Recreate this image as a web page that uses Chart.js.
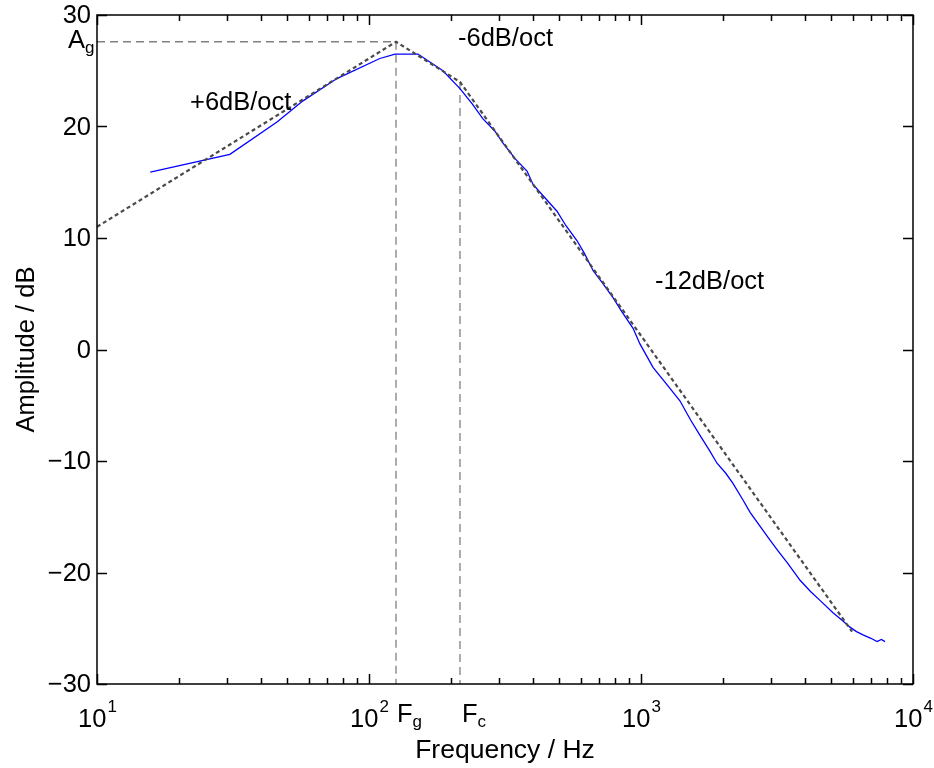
<!DOCTYPE html>
<html>
<head>
<meta charset="utf-8">
<script src="https://cdn.jsdelivr.net/npm/chart.js@4"></script>
<style>
  body { margin: 0; background: #fff; }
</style>
</head>
<body>
<canvas id="chartAmplitude" width="934" height="768"></canvas>
<script>
// measured response (Hz, dB)
const measuredFreq = [15.7, 30.8, 45.9, 57.2, 76.2, 109.6, 124.7, 151.4, 187, 216, 240, 262, 290, 311, 345, 381, 401, 440, 491, 530, 582, 620, 667, 720, 789, 850, 935, 991, 1050, 1107, 1250, 1390, 1520, 1648, 1780, 1903, 2050, 2178, 2371, 2518, 2750, 2981, 3200, 3442, 3845, 4200, 4550, 5080, 5500, 5865, 6200, 6550, 7000, 7380, 7650, 7890];
const measuredDb   = [15.9, 17.5, 20.4, 22.3, 24.3, 26.1, 26.5, 26.5, 25.0, 23.4, 22.0, 20.7, 19.6, 18.5, 17.1, 16.0, 14.8, 13.7, 12.4, 11.1, 9.75, 8.6, 7.07, 6.0, 4.65, 3.4, 1.9, 0.5, -0.6, -1.6, -3.2, -4.6, -6.3, -7.7, -9.0, -10.2, -11.1, -12.0, -13.5, -14.6, -15.9, -17.1, -18.1, -19.1, -20.7, -21.7, -22.5, -23.6, -24.3, -24.9, -25.3, -25.6, -25.9, -26.2, -26.0, -26.2];

// asymptotes (dotted)
const asymFreq = [10, 125.7, 216, 5970];
const asymDb   = [11.0, 27.6, 24.0, -25.3];

// guide points
const Fg = 125.7;
const Fc = 216;
const Ag = 27.6;

// axes
const xDecades = [10, 100, 1000, 10000];
const xExponents = ["1", "2", "3", "4"];
const yTicks = [-30, -20, -10, 0, 10, 20, 30];

const font = '"Liberation Sans", Arial, Helvetica, sans-serif';

const toPoints = (xs, ys) => xs.map((x, i) => ({ x: x, y: ys[i] }));

const axesPlugin = {
    id: 'matlabAxes',
    afterDraw(chart) {
        const ctx = chart.ctx;
        const xs = chart.scales.x, ys = chart.scales.y;
        const a = chart.chartArea;
        ctx.save();
        ctx.strokeStyle = '#000';
        ctx.fillStyle = '#000';
        ctx.lineWidth = 1.5;

        // ticks on all four sides, pointing inward
        ctx.beginPath();
        xDecades.forEach((d, k) => {
            for (let m = 1; m <= 9; m++) {
                const v = d * m;
                if (v > 10000 || (m > 1 && k === xDecades.length - 1)) continue;
                const px = Math.round(xs.getPixelForValue(v)) + 0.5;
                const len = m === 1 ? 10 : 6;
                ctx.moveTo(px, a.bottom); ctx.lineTo(px, a.bottom - len);
                ctx.moveTo(px, a.top); ctx.lineTo(px, a.top + len);
            }
        });
        yTicks.forEach(v => {
            const py = Math.round(ys.getPixelForValue(v)) + 0.5;
            ctx.moveTo(a.left, py); ctx.lineTo(a.left + 10, py);
            ctx.moveTo(a.right, py); ctx.lineTo(a.right - 10, py);
        });
        ctx.stroke();
        ctx.strokeRect(a.left, a.top, a.right - a.left, a.bottom - a.top);

        // y tick labels
        ctx.font = '25.5px ' + font;
        ctx.textAlign = 'right';
        ctx.textBaseline = 'middle';
        yTicks.forEach(v => {
            const label = v < 0 ? '\u2212' + Math.abs(v) : String(v);
            ctx.fillText(label, a.left - 6, ys.getPixelForValue(v) + 1);
        });

        // x tick labels 10^n
        ctx.textBaseline = 'alphabetic';
        ctx.textAlign = 'left';
        xDecades.forEach((d, i) => {
            ctx.font = '25.5px ' + font;
            const w1 = ctx.measureText('10').width;
            ctx.font = '17px ' + font;
            const w2 = ctx.measureText(xExponents[i]).width;
            const x0 = xs.getPixelForValue(d) - (w1 + w2) / 2;
            ctx.font = '25.5px ' + font;
            ctx.fillText('10', x0, 727);
            ctx.font = '17px ' + font;
            ctx.fillText(xExponents[i], x0 + w1 + 1, 712);
        });

        // F_g, F_c, A_g
        const sub = (main, s, x, y) => {
            ctx.font = '25.5px ' + font;
            ctx.fillText(main, x, y);
            const w = ctx.measureText(main).width;
            ctx.font = '17px ' + font;
            ctx.fillText(s, x + w, y + 5);
        };
        sub('F', 'g', xs.getPixelForValue(Fg) + 1, 722);
        sub('F', 'c', xs.getPixelForValue(Fc) + 2, 722);
        sub('A', 'g', 68, 48);

        // slope labels
        ctx.font = '25.5px ' + font;
        ctx.fillText('+6dB/oct', 190, 110);
        ctx.fillText('-6dB/oct', 458, 46);
        ctx.fillText('-12dB/oct', 655, 289);

        // axis titles
        ctx.textAlign = 'center';
        ctx.font = '26.5px ' + font;
        ctx.fillText('Frequency / Hz', (a.left + a.right) / 2, 758);
        ctx.font = '25.5px ' + font;
        ctx.translate(34, (a.top + a.bottom) / 2);
        ctx.rotate(-Math.PI / 2);
        ctx.fillText('Amplitude / dB', 0, 0);
        ctx.restore();
    }
};

const guideStyle = {
    borderColor: '#808080',
    borderWidth: 1.3,
    borderDash: [8, 5],
    showLine: true,
    pointRadius: 0,
    order: 2
};

new Chart(document.getElementById('chartAmplitude'), {
    type: 'scatter',
    data: {
        datasets: [
            {
                label: 'Asymptote',
                data: toPoints(asymFreq, asymDb),
                borderColor: '#4a4a4a',
                borderWidth: 2.2,
                borderDash: [4, 3],
                showLine: true,
                pointRadius: 0,
                order: 0
            },
            {
                label: 'Measured',
                data: toPoints(measuredFreq, measuredDb),
                borderColor: '#0000ff',
                borderWidth: 1.3,
                showLine: true,
                pointRadius: 0,
                order: 1
            },
            Object.assign({ label: 'Ag', data: [{ x: 10, y: Ag }, { x: Fg, y: Ag }] }, guideStyle),
            Object.assign({ label: 'Fg', data: [{ x: Fg, y: Ag }, { x: Fg, y: -30 }] }, guideStyle),
            Object.assign({ label: 'Fc', data: [{ x: Fc, y: 24.0 }, { x: Fc, y: -30 }] }, guideStyle)
        ]
    },
    options: {
        responsive: false,
        animation: false,
        layout: { padding: { top: 15, right: 21, left: 0, bottom: 0 } },
        plugins: {
            legend: { display: false },
            tooltip: { enabled: false }
        },
        scales: {
            x: {
                type: 'logarithmic',
                min: 10,
                max: 10000,
                grid: { display: false },
                border: { display: false },
                ticks: { display: false },
                afterFit: s => { s.height = 84; }
            },
            y: {
                min: -30,
                max: 30,
                grid: { display: false },
                border: { display: false },
                ticks: { display: false },
                afterFit: s => { s.width = 97; }
            }
        }
    },
    plugins: [axesPlugin]
});
</script>
</body>
</html>
